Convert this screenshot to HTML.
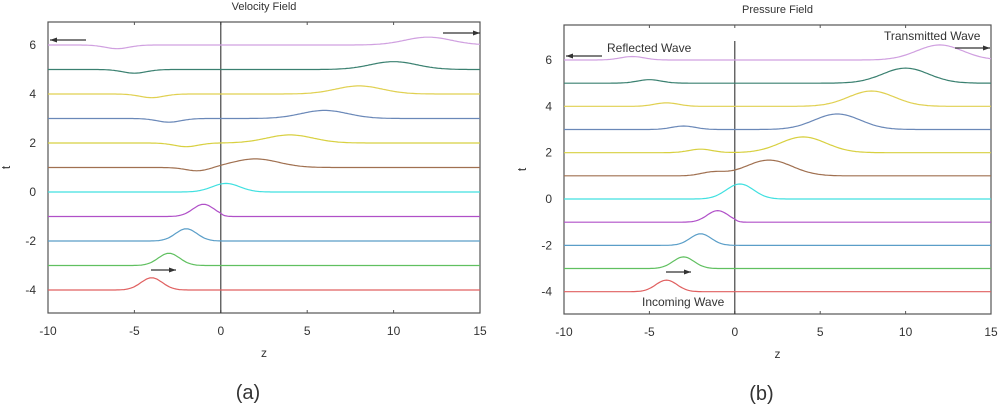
<!DOCTYPE html>
<html><head><meta charset="utf-8"><style>
body{margin:0;background:#fff;width:1000px;height:404px;overflow:hidden}
svg text{font-family:"Liberation Sans",sans-serif;fill:#333}
</style></head><body>
<svg id="s" width="1000" height="404"></svg>
<script>
const times=[-4,-3,-2,-1,0,1,2,3,4,5,6];
const colors=['#e06060','#60c060','#5a9ec8','#b050c8','#40e0e0','#a07050','#d8d040','#6a88b8','#e0d050','#3a8070','#d0a0e0'];
const incCenter=[-4,-3,-2,-1,0.2,null,null,null,null,null,null];
const incAmp=[0.5,0.5,0.5,0.5,0,0,0,0,0,0,0];
const velZeroAmp=[0,0,0,0,0.35,0,0,0,0,0,0];
const preZeroAmp=[0,0,0,0,0.65,0,0,0,0,0,0];
const refCenter=[0,0,0,0,0,-1.3,-2,-3,-4,-5,-6];
const velRefAmp=[0,0,0,0,0,-0.15,-0.15,-0.15,-0.15,-0.15,-0.15];
const preRefAmp=[0,0,0,0,0,0.15,0.15,0.15,0.15,0.15,0.15];
const traCenter=[0,0,0,0,0,2,4,6,8,10,12];
const velTraAmp=[0,0,0,0,0,0.35,0.33,0.33,0.33,0.32,0.32];
const preTraAmp=[0,0,0,0,0,0.68,0.68,0.67,0.66,0.65,0.65];
const xTicks=[-10,-5,0,5,10,15];
const yTicks=[-4,-2,0,2,4,6];
const NS='http://www.w3.org/2000/svg';
const svg=document.getElementById('s');
function mk(tag,attrs,parent){const e=document.createElementNS(NS,tag);for(const k in attrs)e.setAttribute(k,attrs[k]);(parent||svg).appendChild(e);return e;}
function txt(x,y,s,size,anchor,parent){const t=mk('text',{x:x,y:y,'font-size':size,'text-anchor':anchor||'middle'},parent);t.textContent=s;return t;}
function g(z,c,a,sig){return a*Math.exp(-(z-c)*(z-c)/(2*sig*sig));}
function arrow(x1,y,x2,parent){mk('line',{x1:x1,y1:y,x2:x2,y2:y,stroke:'#333','stroke-width':1.2},parent);const d=x2>x1?-1:1;mk('path',{d:`M${x2},${y} L${x2+d*7},${y-2.5} L${x2+d*7},${y+2.5}Z`,fill:'#333'},parent);}
function chart(cfg){
  const G=mk('g',{});
  
  
  const X=z=>cfg.x0+(z+10)/25*(cfg.x1-cfg.x0);
  const Y=t=>cfg.y6+(6-t)/10*(cfg.ym4-cfg.y6);
  const box=mk('rect',{x:cfg.x0,y:cfg.top,width:cfg.x1-cfg.x0,height:cfg.bot-cfg.top,fill:'none',stroke:'#555','stroke-width':1.2},G);
  
  xTicks.forEach(v=>{mk('line',{x1:X(v),y1:cfg.bot,x2:X(v),y2:cfg.bot-3,stroke:'#555'},G);mk('line',{x1:X(v),y1:cfg.top,x2:X(v),y2:cfg.top+3,stroke:'#555'},G);
    const t=txt(X(v),cfg.bot+22,String(v),12,'middle',G);});
  yTicks.forEach(v=>{const t=txt(cfg.x0-12,Y(v)+4,String(v),12,'end',G);});
  const vl=mk('line',{x1:X(0),y1:cfg.vTop,x2:X(0),y2:cfg.bot,stroke:'#333','stroke-width':1.1},G);
  
  times.forEach((t,i)=>{
    let d='';
    for(let k=0;k<=250;k++){const z=-10+k*0.1;let v=0;
      if(incCenter[i]!==null){v+=g(z,incCenter[i],incAmp[i],0.62);if(z>0&&t<0)v*=Math.exp(-z*3);}
      v+=g(z,0.3,cfg.zero[i],0.8);
      v+=g(z,refCenter[i],cfg.ref[i],0.7);
      v+=g(z,traCenter[i],cfg.tra[i],1.35);
      d+=(k?'L':'M')+X(z).toFixed(1)+','+Y(t+v).toFixed(1);}
    const p=mk('path',{d:d,fill:'none',stroke:colors[i],'stroke-width':1.2},G);
    
  });
  const ti=txt((cfg.x0+cfg.x1)/2,cfg.titleY,cfg.title,11,'middle',G);
  const zl=txt((cfg.x0+cfg.x1)/2,cfg.bot+44,'z',12,'middle',G);
  const tl=mk('text',{x:cfg.tX,y:(cfg.top+cfg.bot)/2,'font-size':12,'text-anchor':'middle',transform:`rotate(-90 ${cfg.tX} ${(cfg.top+cfg.bot)/2})`},G);tl.textContent='t';
  
  const pl=txt((cfg.x0+cfg.x1)/2-16,cfg.bot+86,cfg.panel,20,'middle',G);
  return G;
}
const A=chart({name:'velocity-chart',x0:48,x1:480,top:22,bot:313,y6:45,ym4:290,vTop:22,zero:velZeroAmp,ref:velRefAmp,tra:velTraAmp,title:'Velocity Field',titleY:10,tX:10,panel:'(a)'});
arrow(86,40,50,A);arrow(443,33,480,A);arrow(151,270,176,A);
const B=chart({name:'pressure-chart',x0:564,x1:991,top:25,bot:314,y6:60,ym4:291.7,vTop:41,zero:preZeroAmp,ref:preRefAmp,tra:preTraAmp,title:'Pressure Field',titleY:13,tX:526,panel:'(b)'});
arrow(602,56,566,B);arrow(955,48,990,B);arrow(666,272,691,B);
let t1=txt(607,52,'Reflected Wave',12,'start',B);
let t2=txt(884,40,'Transmitted Wave',12,'start',B);
let t3=txt(642,306,'Incoming Wave',12,'start',B);
</script>
</body></html>
